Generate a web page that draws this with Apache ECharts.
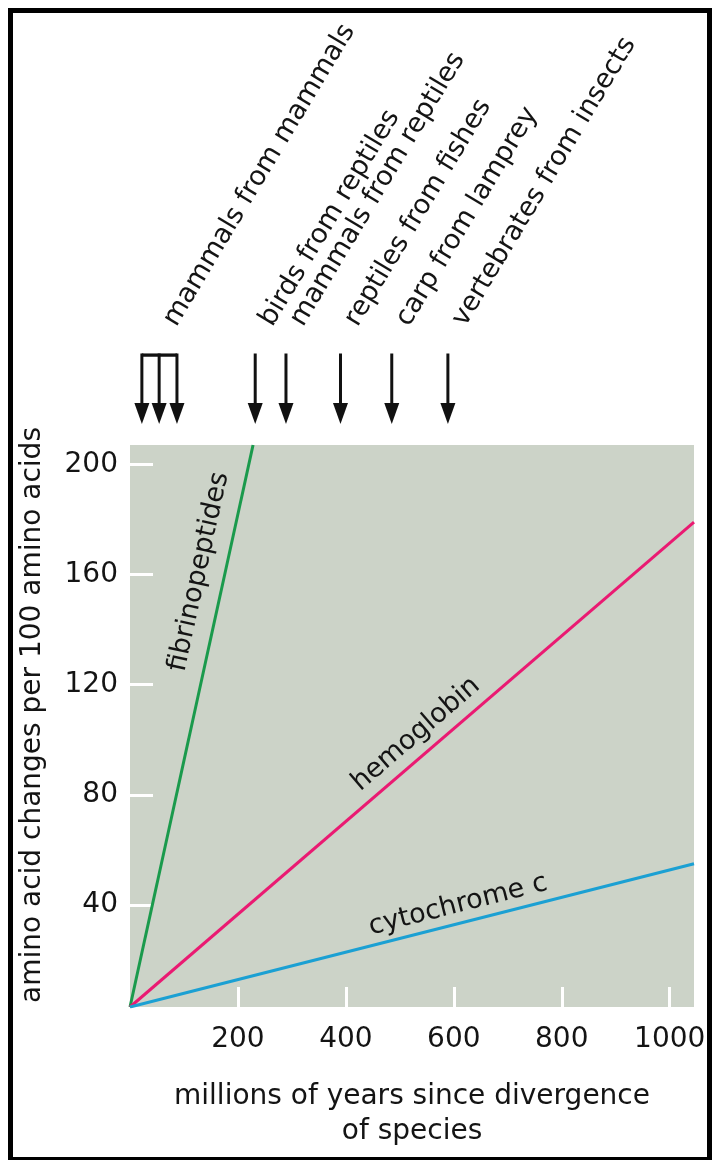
<!DOCTYPE html>
<html><head><meta charset="utf-8">
<script src="https://cdn.jsdelivr.net/npm/echarts@6/dist/echarts.min.js"></script>
<style>html,body{margin:0;padding:0;background:#fff}#c{width:712px;height:1160px}</style>
</head><body><div id="c"></div>
<script>
// ---------- data ----------
const xTicks = [200, 400, 600, 800, 1000];
const yTicks = [40, 80, 120, 160, 200];
const fibrinopeptides = [[0, 3], [228, 207]];
const hemoglobin = [[0, 3], [1045, 179]];
const cytochromeC = [[0, 3], [1045, 55]];
const lineNames = ['fibrinopeptides', 'hemoglobin', 'cytochrome c'];
const divergenceTimes = [22, 54, 87, 232, 289, 390, 485, 589];
const mammalGroup = [22, 87];
const divergenceLabels = ['mammals from mammals', 'birds from reptiles', 'mammals from reptiles',
  'reptiles from fishes', 'carp from lamprey', 'vertebrates from insects'];
const labelAt = [54, 232, 289, 390, 485, 589];

// ---------- chart ----------
const FONT = '"DejaVu Sans", sans-serif';
const TEXT = '#141414';
const lines = [fibrinopeptides, hemoglobin, cytochromeC];
const lineColors = ['#1a9a4c', '#ea1a72', '#1ba0d3'];
const lineLabelAnchors = [[128, 161], [530, 102], [608, 40]];

const chart = echarts.init(document.getElementById('c'), null, {renderer: 'canvas'});
const option = {
  animation: false,
  backgroundColor: '#fff',
  grid: [
    {left: 130, top: 445, width: 564, height: 562, show: true, backgroundColor: '#ccd3c8', borderWidth: 0, outerBoundsMode: 'none'},
    {left: 130, top: 355, width: 564, height: 69, outerBoundsMode: 'none'}
  ],
  xAxis: [
    {type: 'value', gridIndex: 0, min: 0, max: 1045,
     axisLine: {show: false}, splitLine: {show: false},
     axisTick: {show: true, inside: true, length: 20, customValues: xTicks, lineStyle: {color: '#fff', width: 3}},
     axisLabel: {customValues: xTicks, margin: 19, fontSize: 28, fontFamily: FONT, color: TEXT,
                 formatter: v => String(v)},
     name: 'millions of years since divergence\nof species', nameLocation: 'middle', nameGap: 72,
     nameTextStyle: {fontSize: 28, fontFamily: FONT, color: TEXT, lineHeight: 35}},
    {type: 'value', gridIndex: 1, min: 0, max: 1045, show: false}
  ],
  yAxis: [
    {type: 'value', gridIndex: 0, min: 3, max: 207,
     axisLine: {show: false}, splitLine: {show: false},
     axisTick: {show: true, inside: true, length: 23, customValues: yTicks, lineStyle: {color: '#fff', width: 3}},
     axisLabel: {customValues: yTicks, margin: 12, fontSize: 28, fontFamily: FONT, color: TEXT,
                 formatter: v => String(v)}},
    {type: 'value', gridIndex: 1, min: 0, max: 1, show: false}
  ],
  graphic: [
    {type: 'rect', z: 100, shape: {x: 10.5, y: 10.5, width: 699, height: 1149},
     style: {fill: 'none', stroke: '#000', lineWidth: 5}},
    {type: 'text', x: 33, y: 715, rotation: Math.PI / 2,
     style: {text: 'amino acid changes per 100 amino acids', font: '28px ' + FONT, fill: TEXT,
             align: 'center', verticalAlign: 'middle'}}
  ],
  series: [
    ...lines.map((d, i) => ({
      type: 'line', name: lineNames[i], xAxisIndex: 0, yAxisIndex: 0, data: d,
      symbol: 'none', lineStyle: {color: lineColors[i], width: 3}, z: 3
    })),
    {
      type: 'custom', xAxisIndex: 0, yAxisIndex: 0, data: lineLabelAnchors, z: 4,
      renderItem: (params, api) => {
        const i = params.dataIndex;
        const a = api.coord(lines[i][0]), b = api.coord(lines[i][1]);
        const ang = Math.atan2(a[1] - b[1], b[0] - a[0]);
        const p = api.coord([api.value(0), api.value(1)]);
        return {type: 'text', x: p[0], y: p[1], rotation: ang,
          style: {text: lineNames[i], fill: TEXT, font: '27px ' + FONT, align: 'center', verticalAlign: 'middle'}};
      }
    },
    {
      type: 'line', xAxisIndex: 1, yAxisIndex: 1, data: mammalGroup.map(t => [t, 1]),
      symbol: 'none', lineStyle: {color: '#111', width: 3.5}
    },
    {
      type: 'custom', xAxisIndex: 1, yAxisIndex: 1, data: divergenceTimes.map(t => [t, 1]),
      renderItem: (params, api) => {
        const x = api.value(0);
        const top = api.coord([x, 1]), tip = api.coord([x, 0]);
        return {type: 'group', children: [
          {type: 'line', shape: {x1: top[0], y1: top[1] - 1.5, x2: tip[0], y2: tip[1] - 15},
           style: {stroke: '#111', lineWidth: 3}},
          {type: 'polygon', shape: {points: [[tip[0] - 7.5, tip[1] - 21], [tip[0] + 7.5, tip[1] - 21], [tip[0], tip[1]]]},
           style: {fill: '#111'}}
        ]};
      }
    },
    {
      type: 'custom', xAxisIndex: 1, yAxisIndex: 1, data: labelAt.map(t => [t, 1]),
      renderItem: (params, api) => {
        const p = api.coord([api.value(0), 1]);
        return {type: 'text', x: p[0] + 11, y: p[1] - 31, rotation: 59 * Math.PI / 180,
          style: {text: divergenceLabels[params.dataIndex], fill: TEXT, font: '27px ' + FONT,
                  align: 'left', verticalAlign: 'middle'}};
      }
    }
  ]
};
chart.setOption(option);
</script>
</body></html>
